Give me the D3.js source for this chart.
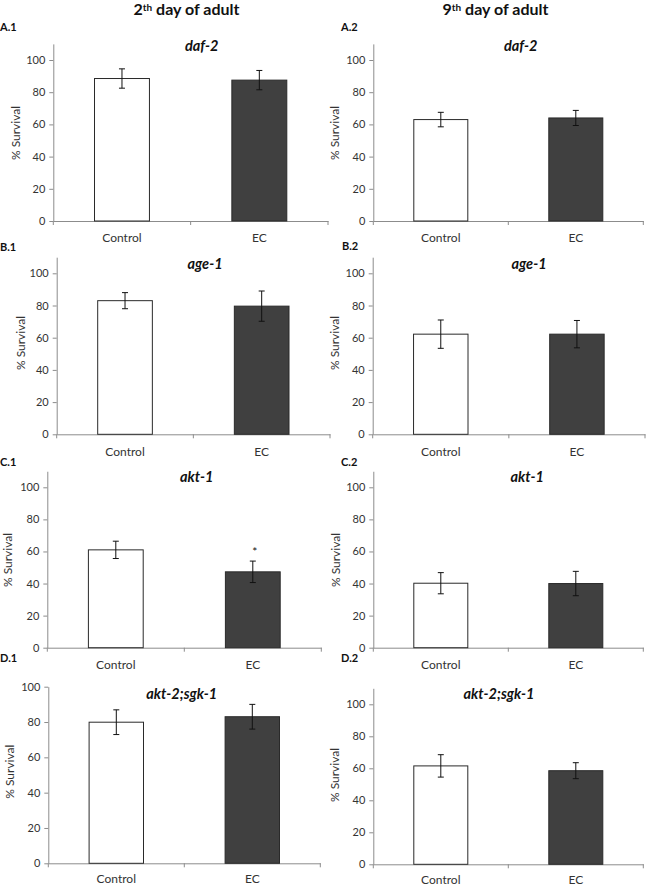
<!DOCTYPE html>
<html>
<head>
<meta charset="utf-8">
<script src="https://cdn.jsdelivr.net/npm/d3@7"></script>
<style>
  html, body { margin: 0; padding: 0; background: #fff; }
  svg { display: block; font-family: Lato, "Open Sans", "Liberation Sans", sans-serif; }
</style>
</head>
<body>
<svg id="chart" width="648" height="887"></svg>
<script>
// ---------- data ----------
const genes = ["daf-2", "age-1", "akt-1", "akt-2;sgk-1"];
const categories = ["Control", "EC"];
const columnTitles = ["2", "9"];           // day numbers, "th day of adult" appended
const rowLetters = ["A", "B", "C", "D"];

// % Survival, [Control, EC] per gene
const day2Values = [[88.5, 87.5], [83.0, 79.6], [61.0, 47.3], [79.9, 83.0]];
const day2Errors = [[6.0, 6.0], [5.0, 9.4], [5.4, 6.7], [7.0, 7.0]];
const day9Values = [[63.0, 64.0], [62.2, 62.2], [40.2, 40.0], [61.5, 58.5]];
const day9Errors = [[4.5, 4.7], [8.8, 8.5], [6.6, 7.6], [7.0, 5.0]];
const day2Signif = [["", ""], ["", ""], ["", "*"], ["", ""]];
const day9Signif = [["", ""], ["", ""], ["", ""], ["", ""]];
const day2YMax = [110, 110, 110, 100];
const day9YMax = [110, 110, 110, 110];
const yTicks = [0, 20, 40, 60, 80, 100];
const yTitle = "% Survival";

// ---------- layout (pixels) ----------
const layout = [
  [ {x0:53.3, x1:328, y0:221, y100:60, gx:201.7, gy:45, lx:0, ly:26, tx:15, ty:133, cl:16},
    {x0:373.3, x1:643.3, y0:221, y100:60, gx:520.7, gy:45, lx:341, ly:26, tx:334, ty:133, cl:16} ],
  [ {x0:56.7, x1:330, y0:434.3, y100:273.3, gx:205, gy:263.3, lx:0, ly:246, tx:20, ty:343, cl:17},
    {x0:372.7, x1:645, y0:434.3, y100:273.3, gx:529, gy:263.3, lx:342, ly:245, tx:334, ty:343, cl:17} ],
  [ {x0:47.3, x1:321.3, y0:647.7, y100:487.3, gx:196.7, gy:476.7, lx:0, ly:461.7, tx:7, ty:560, cl:17},
    {x0:373.3, x1:643.3, y0:647.7, y100:487.3, gx:527.3, gy:476.7, lx:341, ly:461.7, tx:335.7, ty:560, cl:17} ],
  [ {x0:48.3, x1:320.3, y0:863.3, y100:686.7, gx:181.7, gy:693.3, lx:0, ly:657, tx:9.5, ty:771.7, cl:15.5},
    {x0:373.3, x1:643.3, y0:864.3, y100:704.3, gx:499, gy:693.3, lx:341, ly:657, tx:334, ty:775, cl:15} ]
];
const colTitlePos = [{x:186.5, y:15}, {x:495.5, y:15}];

const fills = ["#ffffff", "#404040"];
const axisColor = "#8c8c8c";
const textColor = "#333333";

const svg = d3.select("#chart");

// column titles
colTitlePos.forEach((p, c) => {
  const t = svg.append("text")
    .attr("x", p.x).attr("y", p.y)
    .attr("text-anchor", "middle")
    .attr("font-size", 16).attr("font-weight", "bold").attr("fill", "#111");
  t.append("tspan").text(columnTitles[c]);
  t.append("tspan").text("th").attr("font-size", 10).attr("dy", -4.5);
  t.append("tspan").text(" day of adult").attr("dy", 4.5);
});

const datasets = [
  {values: day2Values, errors: day2Errors, sig: day2Signif, ymax: day2YMax},
  {values: day9Values, errors: day9Errors, sig: day9Signif, ymax: day9YMax}
];

genes.forEach((gene, r) => {
  datasets.forEach((ds, c) => {
    const L = layout[r][c];
    const ymax = ds.ymax[r];
    const pxPerUnit = (L.y0 - L.y100) / 100;
    const y = d3.scaleLinear().domain([0, ymax]).range([L.y0, L.y0 - pxPerUnit * ymax]);
    const x = d3.scaleBand().domain(categories).range([L.x0, L.x1])
      .paddingInner(0.6).paddingOuter(0.3);

    const g = svg.append("g");

    // y axis
    const ya = g.append("g").attr("transform", `translate(${L.x0},0)`)
      .call(d3.axisLeft(y).tickValues(yTicks).tickSize(4).tickSizeOuter(0).tickPadding(4));
    ya.select(".domain").attr("stroke", axisColor);
    ya.selectAll(".tick line").attr("stroke", axisColor);
    ya.selectAll(".tick text").attr("font-size", 11).attr("fill", textColor)
      .attr("font-family", "Lato, 'Open Sans', sans-serif");

    // x axis
    const xa = g.append("g").attr("transform", `translate(0,${L.y0})`)
      .call(d3.axisBottom(x).tickSize(0).tickSizeOuter(0).tickPadding(L.cl - 4));
    xa.select(".domain").attr("stroke", axisColor);
    xa.selectAll(".tick text").attr("font-size", 12).attr("fill", textColor)
      .attr("font-family", "Lato, 'Open Sans', sans-serif");
    // category separator ticks
    const seps = [L.x0, (L.x0 + L.x1) / 2, L.x1];
    g.selectAll("line.sep").data(seps).enter().append("line")
      .attr("x1", d => d).attr("x2", d => d)
      .attr("y1", L.y0).attr("y2", L.y0 + 4)
      .attr("stroke", axisColor);

    // bars
    g.selectAll("rect.bar").data(categories).enter().append("rect")
      .attr("x", d => x(d)).attr("width", x.bandwidth())
      .attr("y", (d, i) => y(ds.values[r][i]))
      .attr("height", (d, i) => L.y0 - y(ds.values[r][i]))
      .attr("fill", (d, i) => fills[i])
      .attr("stroke", "#2a2a2a").attr("stroke-width", 1);

    // error bars
    categories.forEach((cat, i) => {
      const cx = x(cat) + x.bandwidth() / 2;
      const v = ds.values[r][i], e = ds.errors[r][i];
      g.append("line").attr("x1", cx).attr("x2", cx)
        .attr("y1", y(v + e)).attr("y2", y(v - e)).attr("stroke", "#111");
      [v + e, v - e].forEach(val => {
        g.append("line").attr("x1", cx - 3).attr("x2", cx + 3)
          .attr("y1", y(val)).attr("y2", y(val)).attr("stroke", "#111");
      });
      if (ds.sig[r][i]) {
        g.append("text").attr("x", cx + 2).attr("y", y(v + e) - 5)
          .attr("text-anchor", "middle").attr("font-size", 12).attr("fill", "#111")
          .text(ds.sig[r][i]);
      }
    });

    // gene title
    g.append("text").attr("x", L.gx).attr("y", L.gy)
      .attr("text-anchor", "middle").attr("dominant-baseline", "central")
      .attr("font-size", 14.5).attr("font-weight", "bold").attr("font-style", "italic")
      .attr("fill", "#111").text(gene);

    // panel label
    g.append("text").attr("x", L.lx).attr("y", L.ly)
      .attr("dominant-baseline", "central")
      .attr("font-size", 11).attr("font-weight", "bold").attr("fill", "#111")
      .text(`${rowLetters[r]}.${c + 1}`);

    // y title
    g.append("text")
      .attr("transform", `translate(${L.tx},${L.ty}) rotate(-90)`)
      .attr("text-anchor", "middle").attr("dominant-baseline", "central")
      .attr("font-size", 12).attr("fill", textColor).text(yTitle);
  });
});
</script>
</body>
</html>
